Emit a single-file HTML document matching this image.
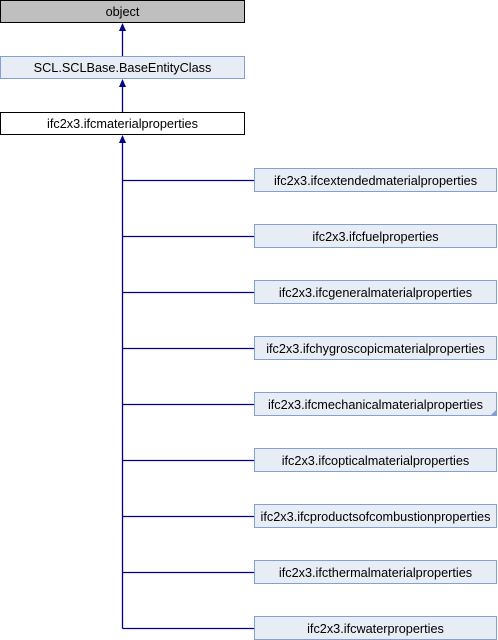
<!DOCTYPE html>
<html><head><style>body{margin:0;background:#fff}svg{display:block}text{font-family:"Liberation Sans",sans-serif;font-size:12.7px;fill:#000}</style></head><body>
<svg width="498" height="640" viewBox="0 0 498 640">
<g stroke="#00008b" stroke-width="1.3" fill="none">
<line x1="122.5" y1="56" x2="122.5" y2="30"/>
<line x1="122.5" y1="112" x2="122.5" y2="86"/>
<path d="M122.5,628.5 L122.5,142"/>
<path d="M122.5,180.5H254M122.5,236.5H254M122.5,292.5H254M122.5,348.5H254M122.5,404.5H254M122.5,460.5H254M122.5,516.5H254M122.5,572.5H254M122.5,628.5H254"/>
</g>
<g fill="#00008b">
<path d="M122.5,23 L126,31 L119,31 Z"/>
<path d="M122.5,79 L126,87 L119,87 Z"/>
<path d="M122.5,135 L126,143 L119,143 Z"/>
</g>
<rect x="0.5" y="0.5" width="244" height="22" fill="#bfbfbf" stroke="#000"/>
<text x="122.5" y="16" text-anchor="middle">object</text>
<rect x="0.5" y="56.5" width="244" height="22" fill="#e8ecf4" stroke="#84a0d0"/>
<text x="122.5" y="72" text-anchor="middle">SCL.SCLBase.BaseEntityClass</text>
<rect x="0.5" y="112.5" width="244" height="22" fill="#fff" stroke="#000"/>
<text x="122.5" y="128" text-anchor="middle">ifc2x3.ifcmaterialproperties</text>
<g fill="#e8ecf4" stroke="#84a0d0">
<rect x="254.5" y="168.5" width="242" height="23"/>
<rect x="254.5" y="224.5" width="242" height="23"/>
<rect x="254.5" y="280.5" width="242" height="23"/>
<rect x="254.5" y="336.5" width="242" height="23"/>
<rect x="254.5" y="392.5" width="242" height="23"/>
<rect x="254.5" y="448.5" width="242" height="23"/>
<rect x="254.5" y="504.5" width="242" height="23"/>
<rect x="254.5" y="560.5" width="242" height="23"/>
<rect x="254.5" y="616.5" width="242" height="23"/>
</g>
<path d="M497,409 L497,416 L490,416 Z" fill="#84a0d0"/>
<g text-anchor="middle">
<text x="375.5" y="185">ifc2x3.ifcextendedmaterialproperties</text>
<text x="375.5" y="241">ifc2x3.ifcfuelproperties</text>
<text x="375.5" y="297">ifc2x3.ifcgeneralmaterialproperties</text>
<text x="375.5" y="353">ifc2x3.ifchygroscopicmaterialproperties</text>
<text x="375.5" y="409">ifc2x3.ifcmechanicalmaterialproperties</text>
<text x="375.5" y="465">ifc2x3.ifcopticalmaterialproperties</text>
<text x="375.5" y="521">ifc2x3.ifcproductsofcombustionproperties</text>
<text x="375.5" y="577">ifc2x3.ifcthermalmaterialproperties</text>
<text x="375.5" y="633">ifc2x3.ifcwaterproperties</text>
</g>
</svg>
</body></html>
